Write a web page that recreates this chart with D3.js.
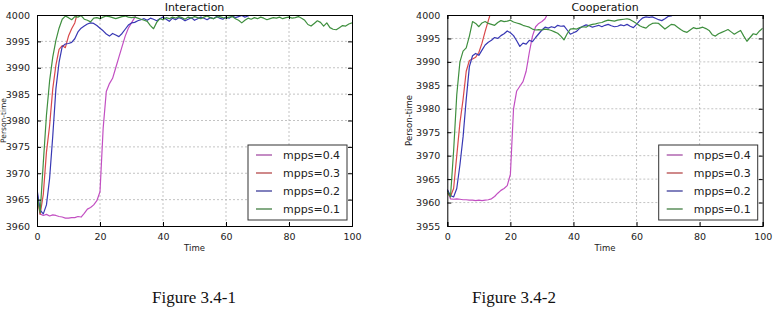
<!DOCTYPE html>
<html><head><meta charset="utf-8">
<script src="https://cdn.jsdelivr.net/npm/d3@7"></script>
<style>body{margin:0;background:#fff}text{font-family:"DejaVu Sans",sans-serif}</style>
</head><body>
<svg id="c" width="775" height="316"></svg>
<script>
// ---- data ----
const seriesLabels = ["mpps=0.4", "mpps=0.3", "mpps=0.2", "mpps=0.1"];
const xTicks = [0, 20, 40, 60, 80, 100];
const yTicksInteraction = [3960, 3965, 3970, 3975, 3980, 3985, 3990, 3995, 4000];
const yTicksCooperation = [3955, 3960, 3965, 3970, 3975, 3980, 3985, 3990, 3995, 4000];
const titles = ["Interaction", "Cooperation"];
const captions = ["Figure 3.4-1", "Figure 3.4-2"];

// Interaction (values per Time step 0,1,2,...)
const interaction04 = [3966.5,3962.3,3962.0,3962.2,3961.9,3962.1,3962.0,3961.8,3961.7,3961.5,3961.5,3961.6,3961.6,3961.8,3961.7,3962.4,3963.2,3963.5,3964.0,3964.8,3966.5,3978.5,3985.5,3987.0,3988.0,3990.0,3992.0,3994.0,3996.0,3997.5,3998.5,3999.5,4000.5];
const interaction03 = [3965.5,3962.2,3966.0,3974.0,3979.0,3986.0,3990.5,3993.5,3994.2,3993.8,3996.0,3997.4,3998.5,4000.8];
const interaction02 = [3967.0,3963.0,3962.3,3964.0,3969.0,3977.0,3986.0,3991.0,3994.0,3994.5,3994.6,3994.8,3995.5,3996.8,3997.5,3997.9,3998.3,3998.5,3998.4,3998.0,3997.5,3997.0,3996.4,3996.0,3996.5,3996.2,3995.9,3996.5,3997.3,3998.1,3998.5,3998.6,3998.9,3999.1,3999.3,3999.0,3999.4,3999.2,3998.9,3999.3,3999.6,3999.2,3998.8,3999.4,3999.1,3999.5,3999.3,3998.9,3999.2,3999.5,3999.0,3999.3,3999.6,3999.4,3999.1,3999.5,3999.3,3999.7,3999.4,3999.2,3999.6,3999.4,3999.8,3999.5,3999.7,3999.9,3999.6,3999.8,4000.2];
const interaction01 = [3966.0,3962.5,3972.0,3981.0,3987.5,3992.0,3995.2,3997.5,3999.2,3999.8,3999.5,3999.1,3999.7,3999.6,3999.9,3999.2,3999.0,3998.7,3999.4,3999.5,3999.3,3999.6,3999.8,3999.7,3999.5,3999.3,3999.5,3999.7,3999.8,3999.6,3999.5,3999.6,3999.4,3999.2,3999.0,3998.8,3998.0,3997.4,3998.6,3999.3,3999.1,3999.5,3999.3,3999.6,3999.4,3999.7,3999.5,3999.2,3999.6,3999.4,3999.7,3999.5,3999.3,3999.6,3999.8,3999.5,3999.3,3999.6,3999.7,3999.5,3999.4,3999.6,3999.7,3999.3,3999.0,3998.5,3999.0,3999.4,3999.2,3999.5,3999.3,3999.6,3999.4,3999.1,3999.3,3999.5,3999.4,3999.6,3999.3,3999.5,3999.6,3999.4,3999.5,3999.7,3999.4,3999.0,3998.2,3997.9,3998.4,3998.9,3998.6,3997.9,3998.5,3997.6,3997.3,3997.2,3997.6,3998.0,3997.9,3998.3,3998.5];

// Cooperation
const cooperation04 = [3962.8,3960.8,3960.7,3960.8,3960.7,3960.6,3960.6,3960.5,3960.5,3960.4,3960.5,3960.4,3960.5,3960.6,3960.8,3961.3,3962.0,3962.6,3963.0,3963.6,3966.0,3980.0,3983.8,3984.8,3985.8,3988.0,3992.0,3995.5,3997.5,3998.2,3998.6,3999.2,4000.5];
const cooperation03 = [3962.0,3961.3,3963.0,3970.0,3977.0,3982.0,3988.0,3990.3,3990.6,3991.0,3992.0,3994.0,3996.5,3998.8,4001.0];
const cooperation02 = [3962.8,3961.5,3961.2,3963.0,3968.0,3974.0,3982.0,3989.0,3991.3,3991.8,3991.4,3992.5,3993.6,3994.2,3994.6,3995.2,3995.0,3995.6,3996.0,3996.6,3996.2,3995.6,3994.5,3993.3,3994.0,3993.8,3994.6,3994.3,3995.2,3996.0,3996.8,3997.4,3997.2,3997.5,3997.3,3997.8,3997.6,3997.7,3996.8,3995.9,3996.2,3996.5,3997.2,3997.6,3997.9,3997.7,3997.4,3997.6,3997.8,3997.5,3997.8,3998.0,3997.7,3997.5,3997.6,3997.9,3997.7,3998.0,3997.6,3997.3,3998.0,3998.8,3999.4,3999.6,3999.5,3999.6,3999.3,3999.0,3998.8,3999.2,3999.7,3999.8,4000.2];
const cooperation01 = [3962.5,3961.2,3971.0,3983.0,3990.0,3992.3,3993.0,3995.5,3998.6,3998.2,3997.5,3998.3,3998.6,3998.2,3998.0,3997.8,3998.4,3998.8,3998.6,3998.7,3998.9,3998.5,3998.3,3998.1,3997.8,3997.6,3997.4,3997.0,3996.8,3996.9,3996.8,3997.0,3996.9,3996.7,3996.4,3996.1,3995.5,3994.7,3996.0,3997.0,3997.1,3997.0,3997.3,3997.5,3997.4,3997.8,3998.0,3998.1,3998.3,3998.4,3998.7,3998.9,3998.8,3998.7,3998.9,3999.0,3999.1,3999.2,3999.0,3998.6,3998.2,3997.7,3997.4,3997.2,3997.8,3998.2,3998.3,3998.2,3997.6,3997.0,3997.5,3998.0,3997.9,3997.4,3996.9,3996.5,3996.3,3996.8,3997.3,3997.1,3997.2,3997.4,3997.1,3996.7,3995.8,3995.5,3996.0,3996.3,3996.6,3996.9,3996.4,3995.9,3996.3,3996.7,3995.5,3994.4,3995.2,3996.0,3995.8,3996.6,3997.2];

const colors = ["#c24fc2", "#d9494b", "#3838b4", "#3f8f3f"];

// ---- drawing ----
const svg = d3.select("#c");
svg.append("rect").attr("width", 775).attr("height", 316).attr("fill", "#fff");

function drawPanel(cfg, idx) {
  const x = d3.scaleLinear().domain([0, 100]).range([cfg.left, cfg.right]);
  const y = d3.scaleLinear().domain([cfg.yTicks[0], cfg.yTicks[cfg.yTicks.length - 1]]).range([cfg.bottom, cfg.top]);
  const g = svg.append("g");
  const clipId = "clip" + idx;
  svg.append("clipPath").attr("id", clipId).append("rect")
    .attr("x", cfg.left).attr("y", cfg.top)
    .attr("width", cfg.right - cfg.left).attr("height", cfg.bottom - cfg.top);

  // grid
  const grid = g.append("g").attr("stroke", "#b4b4b4").attr("stroke-width", 0.8).attr("stroke-dasharray", "2,2");
  xTicks.slice(1, -1).forEach(t => grid.append("line")
    .attr("x1", x(t)).attr("x2", x(t)).attr("y1", cfg.top).attr("y2", cfg.bottom));
  cfg.yTicks.slice(1, -1).forEach(t => grid.append("line")
    .attr("x1", cfg.left).attr("x2", cfg.right).attr("y1", y(t)).attr("y2", y(t)));

  // series
  const line = d3.line().x((d, i) => x(i)).y(d => y(d));
  const lines = g.append("g").attr("clip-path", `url(#${clipId})`);
  cfg.series.forEach((s, k) => {
    lines.append("path").datum(s).attr("d", line).attr("fill", "none")
      .attr("stroke", colors[k]).attr("stroke-width", 1.2).attr("stroke-linejoin", "round");
  });

  // axes (ticks inside, on all sides)
  const axB = d3.axisBottom(x).tickValues(xTicks).tickSize(-4).tickPadding(7).tickFormat(d3.format("d"));
  const axT = d3.axisTop(x).tickValues(xTicks).tickSize(-4).tickFormat("");
  const axL = d3.axisLeft(y).tickValues(cfg.yTicks).tickSize(-4).tickPadding(7).tickFormat(d3.format("d"));
  const axR = d3.axisRight(y).tickValues(cfg.yTicks).tickSize(-4).tickFormat("");
  const style = sel => {
    sel.select(".domain").attr("stroke", "#000").attr("stroke-width", 1);
    sel.selectAll(".tick line").attr("stroke", "#000");
    sel.selectAll("text").attr("font-size", "9.5px").attr("fill", "#222").attr("font-family", "DejaVu Sans");
  };
  g.append("g").attr("transform", `translate(0,${cfg.bottom})`).call(axB).call(style);
  g.append("g").attr("transform", `translate(0,${cfg.top})`).call(axT).call(style);
  g.append("g").attr("transform", `translate(${cfg.left},0)`).call(axL).call(style);
  g.append("g").attr("transform", `translate(${cfg.right},0)`).call(axR).call(style);

  // title & labels
  g.append("text").attr("x", (cfg.left + cfg.right) / 2).attr("y", 10.5).attr("text-anchor", "middle")
    .attr("font-size", "11px").attr("fill", "#111").text(cfg.title);
  g.append("text").attr("x", (cfg.left + cfg.right) / 2).attr("y", 251).attr("text-anchor", "middle")
    .attr("font-size", "8.5px").attr("fill", "#222").text("Time");
  g.append("text").attr("transform", `translate(${cfg.yLabelX},${(cfg.top + cfg.bottom) / 2}) rotate(-90)`)
    .attr("text-anchor", "middle").attr("font-size", cfg.yLabelSize).attr("fill", "#222").text("Person-time");

  // legend
  const lx = cfg.right - 104, ly = 145;
  const lg = g.append("g");
  lg.append("rect").attr("x", lx).attr("y", ly).attr("width", 99).attr("height", 75)
    .attr("fill", "#fff").attr("stroke", "#333").attr("stroke-width", 1);
  seriesLabels.forEach((lab, k) => {
    const yy = ly + 10 + k * 18;
    lg.append("line").attr("x1", lx + 8).attr("x2", lx + 24).attr("y1", yy).attr("y2", yy)
      .attr("stroke", d3.color(colors[k]).darker(0.6)).attr("stroke-width", 1.2);
    lg.append("text").attr("x", lx + 35).attr("y", yy).attr("dy", "0.36em")
      .attr("font-size", "11px").attr("fill", "#222").text(lab);
  });

  // caption
  svg.append("text").attr("x", cfg.capX).attr("y", 303).attr("text-anchor", "middle")
    .style("font-family", "'Liberation Serif', 'Times New Roman', serif")
    .attr("font-size", "17px").attr("fill", "#111").text(cfg.caption);
}

drawPanel({left: 37, right: 352, top: 15, bottom: 226, yTicks: yTicksInteraction, title: titles[0],
  series: [interaction04, interaction03, interaction02, interaction01], caption: captions[0], capX: 194,
  yLabelX: 5.8, yLabelSize: "7.5px"}, 0);
drawPanel({left: 447.3, right: 762.7, top: 15, bottom: 226, yTicks: yTicksCooperation, title: titles[1],
  series: [cooperation04, cooperation03, cooperation02, cooperation01], caption: captions[1], capX: 514,
  yLabelX: 411.5, yLabelSize: "8.5px"}, 1);
</script>
</body></html>
